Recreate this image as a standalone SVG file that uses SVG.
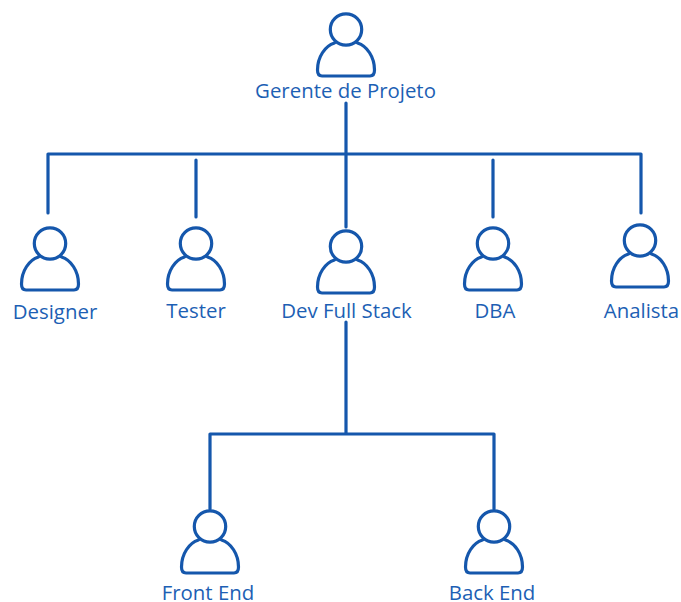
<svg xmlns="http://www.w3.org/2000/svg" width="681" height="602" viewBox="0 0 681 602">
<style>
.l{fill:none;stroke:#1557ac;stroke-width:3.2;stroke-linecap:round;stroke-linejoin:round}
text{font-family:"Open Sans","Noto Sans",sans-serif;font-size:20.4px;fill:#1d5fb4;text-anchor:middle}
</style>
<defs><g id="p" class="l"><circle cx="0" cy="-17.5" r="15.7"/><path d="M-11.500 -4C-21 -1-28.500 10-28.500 23Q-28.500 29-24 29H24Q28.500 29 28.500 23C28.500 10 21-1 11.500-4"/></g></defs>
<rect width="681" height="602" fill="#fff"/>
<g id="connectors" class="l">
<path d="M346 103V227M48 213V154H641V213M196 160V217M493 160V217M346 322V434M210 509V434H494V509"/>
</g>
<g id="n1"><use href="#p" x="346" y="47"/><text x="345.500" y="98">Gerente de Projeto</text></g>
<g id="n2"><use href="#p" x="50" y="261"/><text x="55" y="319">Designer</text></g>
<g id="n3"><use href="#p" x="196" y="261"/><text x="196" y="317.500">Tester</text></g>
<g id="n4"><use href="#p" x="346" y="264"/><text x="346.500" y="318">Dev Full Stack</text></g>
<g id="n5"><use href="#p" x="493" y="261"/><text x="495" y="318">DBA</text></g>
<g id="n6"><use href="#p" x="640" y="258"/><text x="641.500" y="318">Analista</text></g>
<g id="n7"><use href="#p" x="210" y="544"/><text x="208" y="599.500">Front End</text></g>
<g id="n8"><use href="#p" x="494" y="544"/><text x="492" y="599.500">Back End</text></g>
</svg>
